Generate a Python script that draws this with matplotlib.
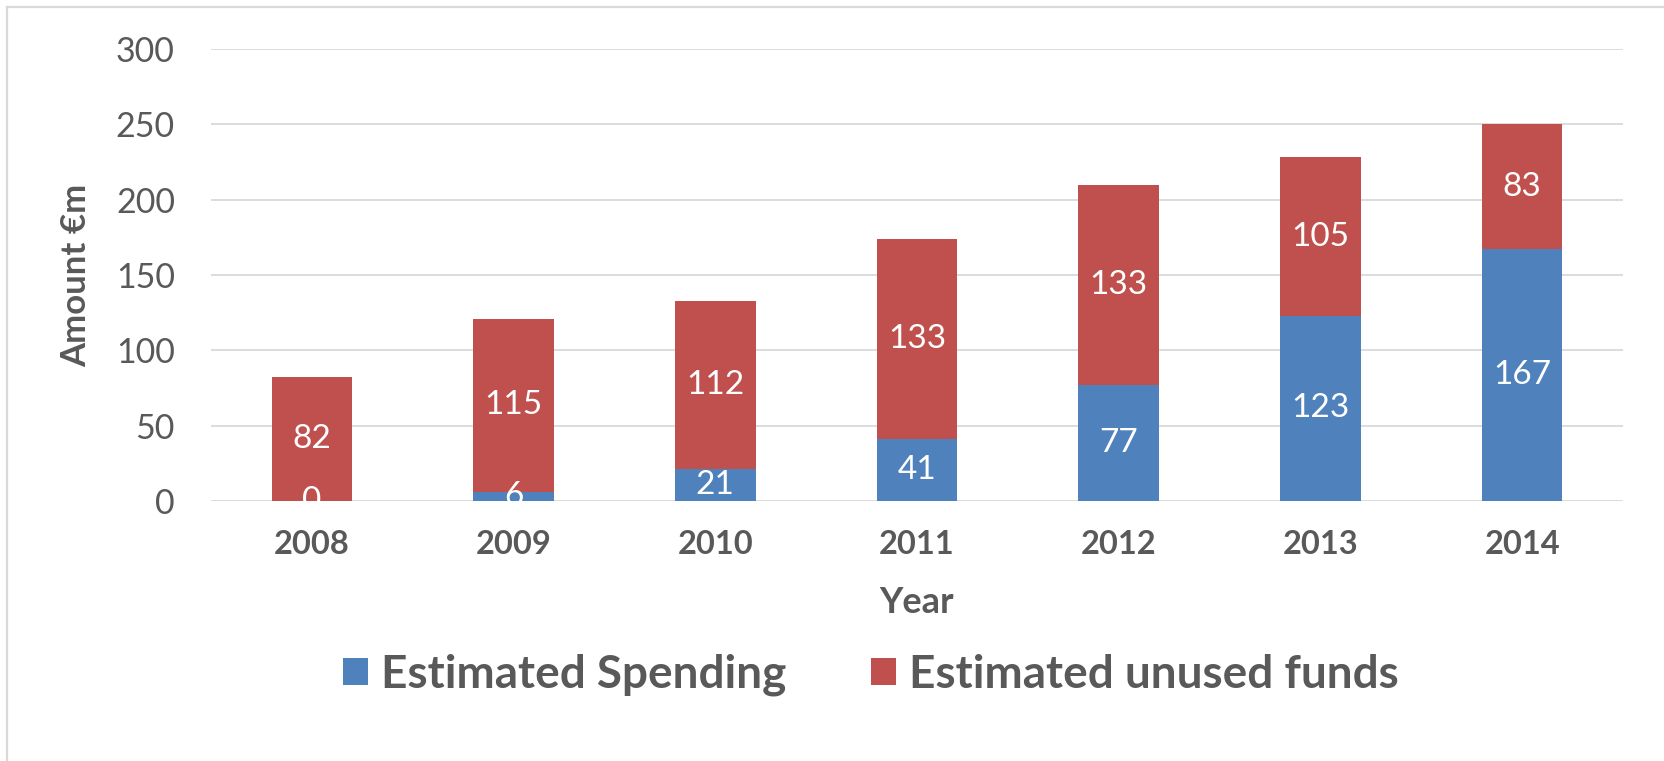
import matplotlib
matplotlib.use("Agg")
import numpy as np
import matplotlib.pyplot as plt
from matplotlib.lines import Line2D

plt.rcParams['font.family'] = ['Lato', 'DejaVu Sans']

# data
years = ['2008', '2009', '2010', '2011', '2012', '2013', '2014']
spending = [0, 6, 21, 41, 77, 123, 167]
unused = [82, 115, 112, 133, 133, 105, 83]

blue = '#4F81BD'
red = '#C0504D'
grey = '#595959'
gridc = '#D9D9D9'

fig = plt.figure(figsize=(16.65, 7.61), dpi=100)
ax = fig.add_axes([211 / 1665, 1 - 501 / 761, (1623 - 211) / 1665, (501 - 49) / 761])

x = np.arange(len(years))
w = 0.4
b1 = ax.bar(x, spending, w, color=blue, label='Estimated Spending', zorder=3)
b2 = ax.bar(x, unused, w, bottom=spending, color=red, label='Estimated unused funds', zorder=3)

# labels centred in each segment
for i in range(len(years)):
    ax.text(x[i], spending[i] / 2, str(spending[i]), ha='center', va='center',
            color='white', fontsize=24, zorder=4)
    ax.text(x[i], spending[i] + unused[i] / 2, str(unused[i]), ha='center', va='center',
            color='white', fontsize=24, zorder=4)

ax.set_xlim(-0.5, len(years) - 0.5)
ax.set_ylim(0, 300)
ax.set_yticks(range(0, 301, 50))
ax.set_xticks(x)
ax.set_xticklabels(years, fontweight='bold')
ax.tick_params(axis='y', length=0, labelsize=24.5, labelcolor=grey, pad=26)
ax.tick_params(axis='x', length=0, labelsize=23.5, labelcolor=grey, pad=21)
ax.grid(axis='y', color=gridc, linewidth=1.3, zorder=0)
for s in ax.spines.values():
    s.set_visible(False)

ax.set_ylabel('Amount €m', fontsize=25, fontweight='bold', color=grey, labelpad=17)
ax.set_xlabel('Year', fontsize=26, fontweight='bold', color=grey, labelpad=19)

fig.legend(handles=[b1, b2], loc='center left', bbox_to_anchor=(320 / 1665, 1 - 675 / 761),
           ncol=2, frameon=False, prop={'size': 33, 'weight': 'bold'}, borderpad=0,
           handlelength=0.55, handleheight=0.55, handletextpad=0.28, columnspacing=1.85,
           labelcolor=grey)

# outer chart border (left and top visible)
fig.add_artist(Line2D([7 / 1665, 7 / 1665], [0, 1 - 7 / 761], transform=fig.transFigure,
                      color=gridc, linewidth=1.6))
fig.add_artist(Line2D([7 / 1665, 1], [1 - 7 / 761, 1 - 7 / 761], transform=fig.transFigure,
                      color=gridc, linewidth=1.6))

fig.savefig('out.png', dpi=100, facecolor='white')
